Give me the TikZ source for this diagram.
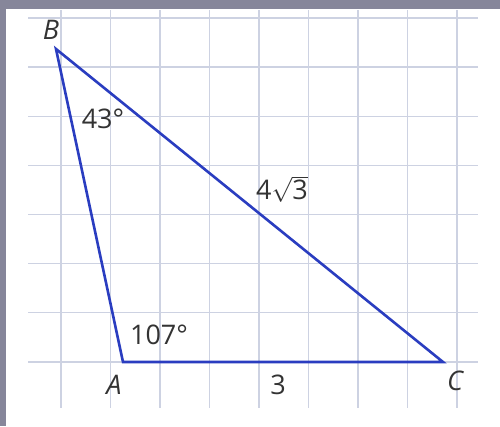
\documentclass[tikz,border=0pt]{standalone}
\usepackage{fontspec}
\setmainfont{Open Sans}
\definecolor{frame}{HTML}{86869A}
\definecolor{gridc}{HTML}{CDD2E2}
\definecolor{tri}{HTML}{2A3DC0}
\definecolor{txt}{HTML}{333333}
\begin{document}
\begin{tikzpicture}[x=1pt,y=-1pt,
  gridline/.style={draw=gridc,line width=1.3pt},
  side/.style={draw=tri,line width=2.6pt,line join=miter},
  lbl/.style={inner sep=0pt,text=txt,font=\fontsize{27}{30}\selectfont},
  vlbl/.style={lbl,font=\fontsize{27}{30}\selectfont\itshape}]
\useasboundingbox (0,0) rectangle (500,426);
\fill[white] (0,0) rectangle (500,426);
\fill[frame] (0,0) rectangle (500,9);
\fill[frame] (0,0) rectangle (6,426);
% grid
\foreach \i in {0,...,8} {
  \draw[gridline] (61+49.5*\i,10) -- (61+49.5*\i,408);
}
\foreach \j in {0,...,7} {
  \draw[gridline] (28,18+49.14*\j) -- (478,18+49.14*\j);
}
% triangle
\coordinate (A) at (123,362);
\coordinate (B) at (56,49);
\coordinate (C) at (443,362);
\draw[side] (A) -- (B) -- (C) -- cycle;
% labels
\node[vlbl] (lB) at (51,30) {B};
\node[vlbl] (lA) at (114,385) {A};
\node[vlbl] (lC) at (455,381) {C};
\node[lbl] (a43) at (103,119) {43°};
\node[lbl] (a107) at (159,335) {107°};
\node[lbl] (s3) at (278,385) {3};
\node[lbl] (s43) at (282,189) {4$\sqrt{\hbox{3}}$};
\end{tikzpicture}
\end{document}
